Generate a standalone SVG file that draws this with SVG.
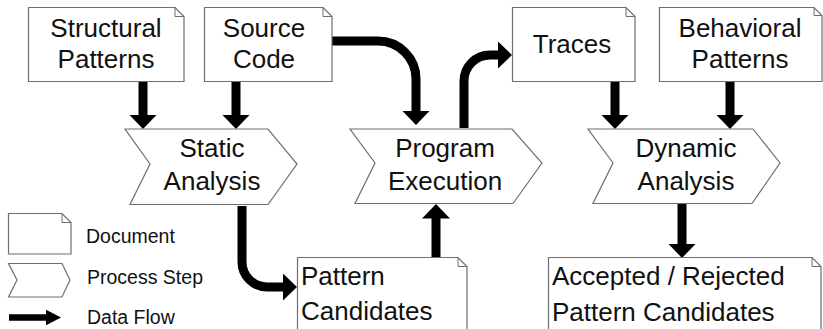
<svg xmlns="http://www.w3.org/2000/svg" width="823" height="329" viewBox="0 0 823 329">
  <defs>
    <style>
      .shape { fill: #ffffff; stroke: #6e6e6e; stroke-width: 1.2; stroke-linejoin: miter; }
      .fold { fill: none; stroke: #6e6e6e; stroke-width: 1; }
      .label { font-family: "Liberation Sans", Arial, sans-serif; font-size: 26px; fill: #111111; }
      .mid { text-anchor: middle; }
      .legend { font-family: "Liberation Sans", Arial, sans-serif; font-size: 19.5px; fill: #111111; }
      .flow { fill: none; stroke: #000000; stroke-width: 9; stroke-linecap: butt; stroke-linejoin: round; marker-end: url(#head); }
    </style>
    <marker id="head" viewBox="0 -15 15 30" refX="0.5" refY="0" markerWidth="15" markerHeight="30" markerUnits="userSpaceOnUse" orient="auto">
      <path d="M0,-14 L14.5,0 L0,14 Z" fill="#000000"/>
    </marker>
    <marker id="smallHead" viewBox="0 -9 16 18" refX="0.5" refY="0" markerWidth="16" markerHeight="18" markerUnits="userSpaceOnUse" orient="auto">
      <path d="M0,-8 L15.5,0 L0,8 Z" fill="#000000"/>
    </marker>
  </defs>

  <!-- data flow connectors -->
  <g id="connectors">
    <path class="flow" d="M143,82 V115"/>
    <path class="flow" d="M236,82 V115"/>
    <path class="flow" d="M332,41 H378 A38,38 0 0 1 416,79 V111"/>
    <path class="flow" d="M464,128 V81 A26,26 0 0 1 490,55 H498"/>
    <path class="flow" d="M615,82 V115"/>
    <path class="flow" d="M730,82 V115"/>
    <path class="flow" d="M242,206 V262 A25,25 0 0 0 267,287 H283"/>
    <path class="flow" d="M436,257 V218"/>
    <path class="flow" d="M682,204 V244"/>
  </g>

  <!-- documents -->
  <g id="structural-patterns">
    <path class="shape" d="M28.5,7.5 H175 L184,16.5 V81.5 H28.5 Z"/>
    <path class="fold" d="M175,7.5 V16.5 H184"/>
    <text class="label mid" x="106" y="37">Structural</text>
    <text class="label mid" x="106" y="68">Patterns</text>
  </g>

  <g id="source-code">
    <path class="shape" d="M204.5,7.5 H323 L332,16.5 V81.5 H204.5 Z"/>
    <path class="fold" d="M323,7.5 V16.5 H332"/>
    <text class="label mid" x="264" y="37">Source</text>
    <text class="label mid" x="264" y="68">Code</text>
  </g>

  <g id="traces">
    <path class="shape" d="M512.5,7.5 H626 L635,16.5 V81.5 H512.5 Z"/>
    <path class="fold" d="M626,7.5 V16.5 H635"/>
    <text class="label mid" x="572" y="53">Traces</text>
  </g>

  <g id="behavioral-patterns">
    <path class="shape" d="M659.5,7.5 H814 L822,15.5 V81.5 H659.5 Z"/>
    <path class="fold" d="M814,7.5 V15.5 H822"/>
    <text class="label mid" x="740" y="37">Behavioral</text>
    <text class="label mid" x="740" y="68">Patterns</text>
  </g>

  <!-- process steps -->
  <g id="static-analysis">
    <path class="shape" d="M125,129 H268 L297,164 L268,204.5 H130 L150,164 Z"/>
    <text class="label mid" x="212" y="157">Static</text>
    <text class="label mid" x="212" y="190">Analysis</text>
  </g>

  <g id="program-execution">
    <path class="shape" d="M350,129 H512 L542,163 L513,203.5 H355 L375,163 Z"/>
    <text class="label mid" x="445" y="157">Program</text>
    <text class="label mid" x="445" y="190">Execution</text>
  </g>

  <g id="dynamic-analysis">
    <path class="shape" d="M588,129 H753 L780,163 L752,203.5 H593 L613,163 Z"/>
    <text class="label mid" x="686" y="157">Dynamic</text>
    <text class="label mid" x="686" y="190">Analysis</text>
  </g>

  <!-- result documents -->
  <g id="pattern-candidates">
    <path class="shape" d="M297.5,257.5 H458 L467,266.5 V340 H297.5 Z"/>
    <path class="fold" d="M458,257.5 V266.5 H467"/>
    <text class="label" x="301" y="285">Pattern</text>
    <text class="label" x="301" y="320">Candidates</text>
  </g>

  <g id="accepted-rejected">
    <path class="shape" d="M548.5,257.5 H812 L821,266.5 V340 H548.5 Z"/>
    <path class="fold" d="M812,257.5 V266.5 H821"/>
    <text class="label" x="552" y="285">Accepted / Rejected</text>
    <text class="label" x="552" y="321">Pattern Candidates</text>
  </g>

  <!-- legend -->
  <g id="legend">
    <path class="shape" d="M8.5,213.5 H62 L71,222.5 V254 H8.5 Z"/>
    <path class="fold" d="M62,213.5 V222.5 H71"/>
    <text class="legend" x="86" y="243">Document</text>
    <path class="shape" d="M8.5,263.5 H62 L70,280 L62,297 H8.5 L17,280 Z"/>
    <text class="legend" x="87" y="284">Process Step</text>
    <path d="M9,317.5 H46" fill="none" stroke="#000000" stroke-width="6.5" marker-end="url(#smallHead)"/>
    <text class="legend" x="87" y="324">Data Flow</text>
  </g>
</svg>
